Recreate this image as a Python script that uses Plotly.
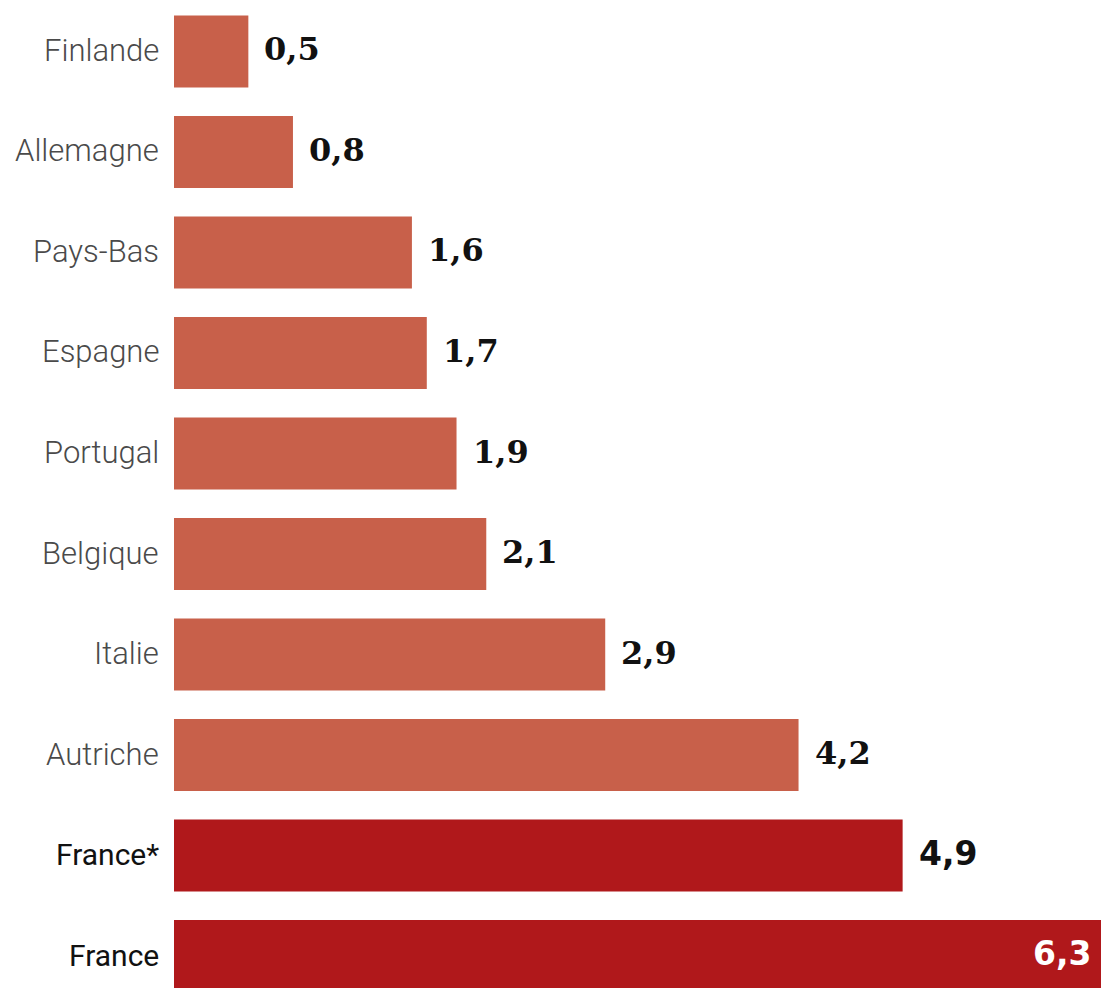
import plotly.graph_objects as go

countries = ["Finlande", "Allemagne", "Pays-Bas", "Espagne", "Portugal",
             "Belgique", "Italie", "Autriche", "France*", "France"]
values = [0.5, 0.8, 1.6, 1.7, 1.9, 2.1, 2.9, 4.2, 4.9, 6.3]
labels = ["0,5", "0,8", "1,6", "1,7", "1,9", "2,1", "2,9", "4,2", "4,9", "6,3"]
highlight = [False] * 8 + [True, True]

LIGHT = "#C8604A"
DARK = "#B0181B"
colors = [DARK if h else LIGHT for h in highlight]

fig = go.Figure(go.Bar(
    x=values, y=countries, orientation="h",
    marker=dict(color=colors, line=dict(width=0)),
    width=0.716, hoverinfo="skip",
))

annotations = []
for c, v, lab, h in zip(countries, values, labels, highlight):
    # category label
    annotations.append(dict(
        x=0, xref="paper", y=c, yref="y", text=c, showarrow=False,
        xanchor="right", yanchor="middle", xshift=-13, yshift=1,
        font=dict(family="Roboto", size=31 if not h else 30,
                  color="#111111" if h else "#4a4a4a",
                  weight=400 if h else 300),
    ))
    # value label
    if c == "France":
        annotations.append(dict(
            x=1, xref="paper", y=c, yref="y", text=lab, showarrow=False,
            xanchor="right", yanchor="middle", xshift=-8, yshift=3,
            font=dict(family="DejaVu Sans", size=33, color="white", weight="bold"),
        ))
    else:
        annotations.append(dict(
            x=v, xref="x", y=c, yref="y", text=lab, showarrow=False,
            xanchor="left", yanchor="middle", xshift=14, yshift=2,
            font=dict(family="DejaVu Serif" if not h else "DejaVu Sans",
                      size=32 if not h else 33, color="#111111", weight="bold"),
        ))

fig.update_layout(
    width=1101, height=988,
    margin=dict(l=174, r=0, t=0, b=0),
    paper_bgcolor="white", plot_bgcolor="white",
    showlegend=False,
    xaxis=dict(range=[0, 6.234], visible=False, fixedrange=True),
    yaxis=dict(type="category", categoryorder="array", categoryarray=countries,
               range=[9.318, -0.512], showticklabels=False, showgrid=False,
               zeroline=False, ticks="", fixedrange=True),
    annotations=annotations,
)

fig.write_html("out.html")
